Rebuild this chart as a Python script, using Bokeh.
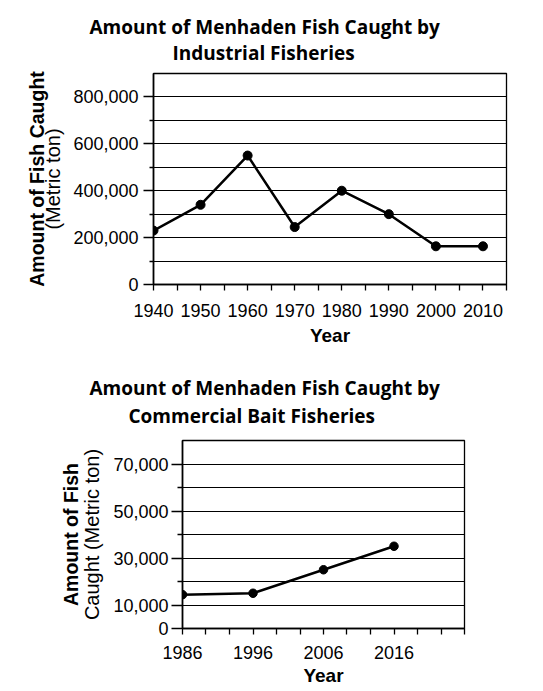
from bokeh.plotting import figure
from bokeh.models import Range1d, FixedTicker, NumeralTickFormatter, Title, LinearAxis
from bokeh.embed import file_html
from bokeh.resources import INLINE

# ---- data: industrial fisheries ----
ind_years = [1940, 1950, 1960, 1970, 1980, 1990, 2000, 2010]
ind_catch = [230000, 340000, 550000, 245000, 400000, 300000, 163000, 163000]
ind_yticks = [0, 200000, 400000, 600000, 800000]
ind_yminor = [100000, 300000, 500000, 700000]
ind_xticks = [1940, 1950, 1960, 1970, 1980, 1990, 2000, 2010]
ind_xminor = [1945, 1955, 1965, 1975, 1985, 1995, 2005, 2015]

# ---- data: commercial bait fisheries ----
bait_years = [1986, 1996, 2006, 2016]
bait_catch = [14400, 15000, 25000, 35000]
bait_yticks = [0, 10000, 30000, 50000, 70000]
bait_yminor = [20000, 40000, 60000]
bait_xticks = [1986, 1996, 2006, 2016]
bait_xminor = [1989.333, 1992.667, 1999.333, 2002.667, 2009.333, 2012.667,
               2019.333, 2022.667, 2026]

TITLE_FONT = "Open Sans"
AX_FONT = "Liberation Sans"


def base_fig(fw, fh, left, right, top, bottom, xr, yr):
    p = figure(frame_width=fw, frame_height=fh, min_border_left=left,
               min_border_right=right, min_border_top=top, min_border_bottom=bottom,
               x_range=xr, y_range=yr, output_backend="svg", toolbar_location=None,
               title_location=None,
               background_fill_color="white", border_fill_color="white")
    p.outline_line_color = "black"
    p.outline_line_width = 1.3
    p.xgrid.grid_line_color = None
    p.ygrid.grid_line_color = "black"
    p.ygrid.grid_line_width = 1.2
    p.ygrid.minor_grid_line_color = "black"
    p.ygrid.minor_grid_line_width = 1.2
    for ax in (p.xaxis[0], p.yaxis[0]):
        ax.axis_line_color = "black"
        ax.axis_line_width = 1.6
        ax.major_tick_line_color = "black"
        ax.minor_tick_line_color = "black"
        ax.major_tick_line_width = 1.3
        ax.minor_tick_line_width = 1.3
        ax.major_tick_in = 0
        ax.minor_tick_in = 0
        ax.major_label_text_font = AX_FONT
        ax.major_label_text_font_size = "18px"
        ax.major_label_text_color = "black"
        ax.axis_label_text_font = AX_FONT
        ax.axis_label_text_color = "black"
    p.xaxis.axis_label = "Year"
    p.xaxis.axis_label_text_font_style = "bold"
    p.xaxis.axis_label_text_font_size = "19px"
    p.yaxis.formatter = NumeralTickFormatter(format="0,0")
    p.yaxis.axis_label_text_font_style = "normal"
    p.yaxis.axis_label_text_font_size = "20px"
    return p


def outer_label_axis(p, text, standoff):
    ax = LinearAxis(ticker=FixedTicker(ticks=[]), axis_line_color=None,
                    major_tick_line_color=None, minor_tick_line_color=None,
                    major_tick_out=0, minor_tick_out=0, major_label_standoff=0,
                    axis_label=text, axis_label_standoff=standoff,
                    axis_label_text_font=AX_FONT, axis_label_text_font_style="bold",
                    axis_label_text_font_size="19.5px", axis_label_text_color="black")
    p.add_layout(ax, "left")


def add_title(p, text, offset, standoff):
    p.add_layout(Title(text=text, align="left", offset=offset, standoff=standoff,
                       text_font=TITLE_FONT, text_font_size="19px",
                       text_font_style="bold", text_color="black"), "above")


# ---------- top chart ----------
p1 = base_fig(353, 211, 153, 37, 73, 71, Range1d(1940, 2015), Range1d(0, 900000))
p1.xaxis.ticker = FixedTicker(ticks=ind_xticks, minor_ticks=ind_xminor)
p1.yaxis.ticker = FixedTicker(ticks=ind_yticks, minor_ticks=ind_yminor)
p1.xaxis.major_tick_out = 6
p1.xaxis.minor_tick_out = 6
p1.xaxis.major_label_standoff = 13
p1.xaxis.axis_label_standoff = 5
p1.yaxis.major_tick_out = 10
p1.yaxis.minor_tick_out = 4
p1.yaxis.major_label_standoff = 5
p1.yaxis.axis_label = "(Metric ton)"
p1.yaxis.axis_label_standoff = 6
outer_label_axis(p1, "Amount of Fish Caught", -8)
p1.line(ind_years, ind_catch, line_color="black", line_width=2.5)
p1.scatter(ind_years, ind_catch, size=9, fill_color="black", line_color="black")
add_title(p1, "Industrial Fisheries", 19, 16)
add_title(p1, "Amount of Menhaden Fish Caught by", -64, -20)

# ---------- bottom chart ----------
p2 = base_fig(282, 188, 182, 79, 85, 58, Range1d(1986, 2026), Range1d(0, 80000))
p2.xaxis.ticker = FixedTicker(ticks=bait_xticks, minor_ticks=bait_xminor)
p2.yaxis.ticker = FixedTicker(ticks=bait_yticks, minor_ticks=bait_yminor)
p2.xaxis.major_tick_out = 6
p2.xaxis.minor_tick_out = 6
p2.xaxis.major_label_standoff = 11
p2.xaxis.axis_label_standoff = 3
p2.yaxis.major_tick_out = 11
p2.yaxis.minor_tick_out = 5
p2.yaxis.major_label_standoff = 3
p2.yaxis.axis_label = "Caught (Metric ton)"
p2.yaxis.axis_label_standoff = 7
outer_label_axis(p2, "Amount of Fish", -3)
p2.line(bait_years, bait_catch, line_color="black", line_width=2.5)
p2.scatter(bait_years, bait_catch, size=8.5, fill_color="black", line_color="black")
add_title(p2, "Commercial Bait Fisheries", -54, 23)
add_title(p2, "Amount of Menhaden Fish Caught by", -93, -22)

open("out.html", "w").write(file_html([p1, p2], INLINE))
